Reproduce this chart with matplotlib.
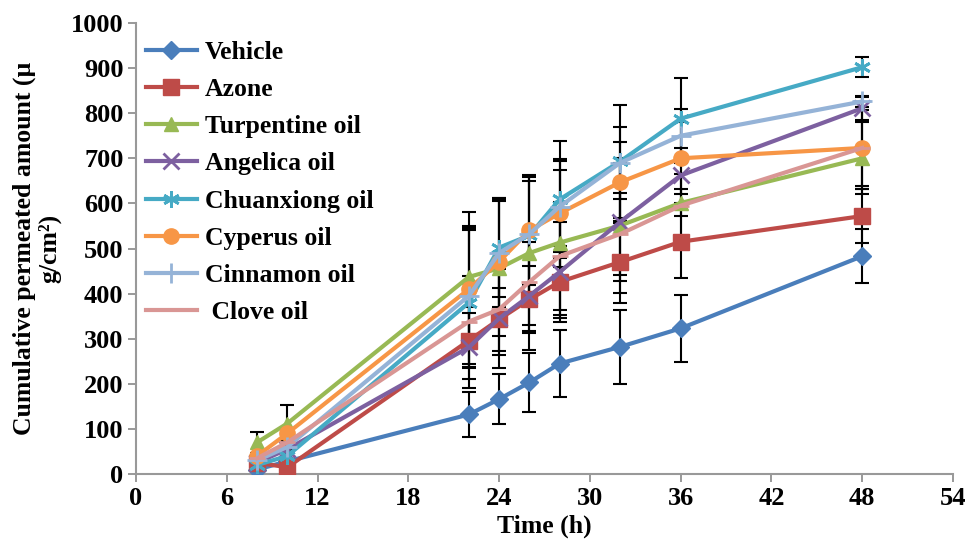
import numpy as np
import matplotlib
matplotlib.use("Agg")
import matplotlib.pyplot as plt

# sampling times (h)
time_h = [8, 10, 22, 24, 26, 28, 32, 36, 48]

# mean cumulative amount per series
vehicle = [10, 28, 132, 166, 203, 245, 282, 323, 483]
azone = [25, 15, 296, 343, 387, 426, 470, 515, 572]
turpentine = [70, 112, 437, 456, 490, 513, 551, 601, 700]
angelica = [25, 55, 281, 345, 395, 448, 559, 662, 811]
chuanxiong = [20, 40, 380, 502, 529, 609, 693, 788, 902]
cyperus = [40, 90, 410, 471, 540, 578, 647, 700, 723]
cinnamon = [30, 60, 395, 490, 532, 593, 690, 750, 826]
clove = [35, 70, 338, 365, 426, 483, 532, 595, 723]

# standard deviations
sd_vehicle = [3, 5, 50, 55, 65, 75, 82, 75, 60]
sd_azone = [4, 5, 60, 70, 75, 80, 90, 80, 60]
sd_turpentine = [23, 40, 145, 150, 160, 160, 150, 30, 80]
sd_angelica = [4, 6, 90, 110, 120, 110, 130, 60, 25]
sd_chuanxiong = [4, 6, 170, 110, 130, 130, 125, 90, 22]
sd_cyperus = [5, 8, 130, 140, 120, 120, 90, 80, 90]
sd_cinnamon = [4, 6, 150, 120, 130, 100, 80, 60, 12]
sd_clove = [4, 6, 100, 100, 110, 120, 90, 70, 85]

labels = ["Vehicle", "Azone", "Turpentine oil", "Angelica oil", "Chuanxiong oil",
          "Cyperus oil", "Cinnamon oil", " Clove oil"]
means = [vehicle, azone, turpentine, angelica, chuanxiong, cyperus, cinnamon, clove]
sds = [sd_vehicle, sd_azone, sd_turpentine, sd_angelica, sd_chuanxiong,
       sd_cyperus, sd_cinnamon, sd_clove]
colors = ["#4A7EBB", "#BE4B48", "#98B954", "#7D60A0", "#46AAC5",
          "#F79646", "#95B3D7", "#D99694"]
markers = ["D", "s", "^", "x", (6, 2, 0), "o", "+", "_"]
msizes = [9, 11, 10, 11, 12, 11, 14, 12]

plt.rcParams['font.family'] = ['Liberation Serif', 'DejaVu Serif']
plt.rcParams['font.weight'] = 'bold'

fig = plt.figure(figsize=(9.67, 5.41), dpi=100)
ax = fig.add_axes([0.1406, 0.1238, 0.845, 0.8337])

for m, s, lab, c, mk, ms in zip(means, sds, labels, colors, markers, msizes):
    ax.errorbar(time_h, m, yerr=s, fmt='none', ecolor='black', elinewidth=1.5,
                capsize=5, capthick=1.5, zorder=2)
    ax.plot(time_h, m, color=c, marker=mk, markersize=ms, linewidth=3,
            markeredgewidth=2 if mk in ("x", "+", "_", (6, 2, 0)) else 1,
            markeredgecolor=c, label=lab, zorder=3)

ax.set_xlim(0, 54)
ax.set_ylim(0, 1000)
ax.set_xticks(np.arange(0, 55, 6))
ax.set_yticks(np.arange(0, 1001, 100))
ax.tick_params(labelsize=19, color='#888888', length=6, width=1.2, direction='out')
ax.tick_params(axis='y', pad=3)
for lbl in ax.get_xticklabels() + ax.get_yticklabels():
    lbl.set_fontweight('bold')

for side in ['top', 'right']:
    ax.spines[side].set_visible(False)
for side in ['left', 'bottom']:
    ax.spines[side].set_color('#999999')
    ax.spines[side].set_linewidth(1.5)

ax.set_xlabel("Time (h)", fontsize=18.5, fontweight='bold', labelpad=3)
ax.set_ylabel("Cumulative permeated amount (µ\ng/cm²)", fontsize=18.5,
              fontweight='bold', labelpad=7, linespacing=1.1)

leg = ax.legend(loc='upper left', bbox_to_anchor=(0.012, 0.96), frameon=False,
                fontsize=18.5, handlelength=2.0, labelspacing=0.55,
                handletextpad=0.3, borderaxespad=0, borderpad=0)
for t in leg.get_texts():
    t.set_fontweight('bold')

fig.savefig("out.png", dpi=100)
